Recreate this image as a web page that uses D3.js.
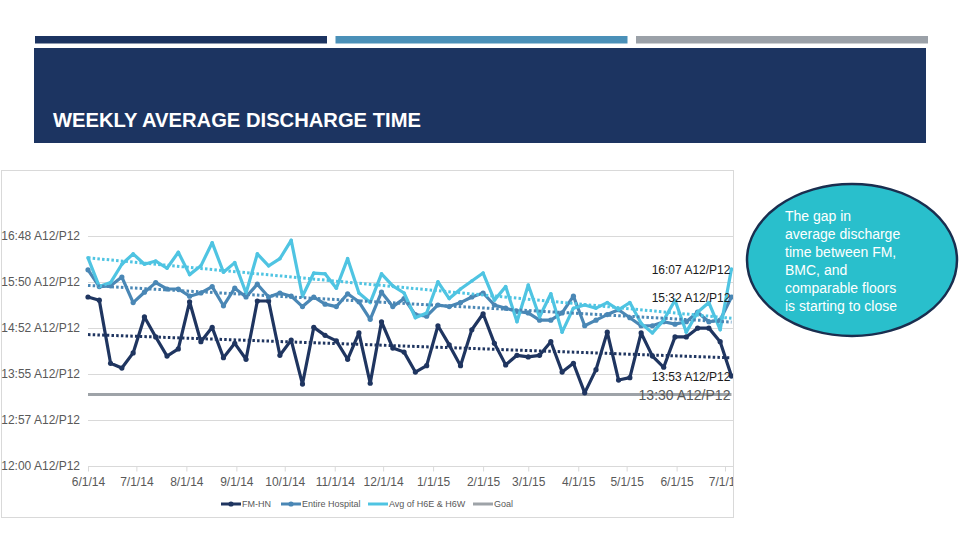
<!DOCTYPE html>
<html>
<head>
<meta charset="utf-8">
<script src="https://cdn.jsdelivr.net/npm/d3@7"></script>
<style>
  body { margin: 0; background: #fff; }
  svg { display: block; font-family: "Liberation Sans", Arial, sans-serif; }
</style>
</head>
<body>
<div id="slide"></div>
<script>
// weekly values (hh:mm)
let fmHN = ["15:32","15:28","14:09","14:03","14:22","15:07","14:42","14:18","14:27","15:26",
  "14:36","14:54","14:16","14:34","14:14","15:27","15:27","14:19","14:38","13:43",
  "14:54","14:44","14:37","14:14","14:47","13:44","15:01","14:28","14:23","13:58",
  "14:06","14:56","14:32","14:06","14:51","15:11","14:34","14:07","14:19","14:17",
  "14:19","14:36","13:58","14:09","13:32","14:01","14:48","13:48","13:51","14:47",
  "14:18","14:04","14:42","14:42","14:53","14:53","14:36","13:53"];
let entireHospital = ["16:06","15:45","15:46","15:57","15:25","15:38","15:50","15:42","15:42","15:33",
  "15:37","15:45","15:21","15:43","15:32","15:48","15:32","15:37","15:33","15:20",
  "15:32","15:23","15:20","15:36","15:26","15:04","15:38","15:20","15:30","15:10",
  "15:08","15:22","15:20","15:25","15:32","15:37","15:22","15:18","15:14","15:12",
  "15:03","15:03","15:12","15:33","14:56","15:03","15:10","15:16","15:06","14:56",
  "14:56","15:01","14:58","15:01","15:13","15:01","15:03","15:32"];
let avgH6 = ["16:21","15:45","15:50","16:13","16:26","16:13","16:17","16:08","16:28","16:00",
  "16:11","16:40","16:03","16:15","15:37","16:26","16:11","16:20","16:43","15:33",
  "16:02","16:01","15:43","16:20","15:37","15:25","16:01","15:46","15:37","15:06",
  "15:12","15:51","15:30","15:42","15:52","16:02","15:28","15:45","15:01","15:47",
  "15:07","15:36","14:48","15:18","15:22","15:18","15:25","15:16","15:25","14:59",
  "14:47","15:03","15:28","14:48","15:13","15:25","14:51","16:07"];
let goal = "13:30";

let seriesNames = ["FM-HN", "Entire Hospital", "Avg of H6E & H6W", "Goal"];
let seriesColors = ["#1f3560", "#4a87b5", "#4fc4e2", "#9ea3a8"];

let yTicks = ["12:00", "12:57", "13:55", "14:52", "15:50", "16:48"];
let yTickValues = [720, 777.6, 835.2, 892.8, 950.4, 1008];
let xTickLabels = ["6/1/14","7/1/14","8/1/14","9/1/14","10/1/14","11/1/14","12/1/14",
  "1/1/15","2/1/15","3/1/15","4/1/15","5/1/15","6/1/15","7/1/15"];

let calloutLines = ["The gap in", "average discharge", "time between FM,",
  "BMC, and", "comparable floors", "is starting to close"];

let width = 960;
let height = 540;

function toMin(s) {
  let p = s.split(":");
  return +p[0] * 60 + +p[1];
}

let parseDay = d3.timeParse("%m/%d/%y");
let firstWeek = parseDay("06/01/14");
let weeks = d3.timeDay.range(firstWeek, d3.timeDay.offset(firstWeek, 7 * fmHN.length), 7);

let svg = d3.select("#slide").append("svg")
  .attr("width", width)
  .attr("height", height);

// header bars
let barColors = ["#1c3461", "#4a90b8", "#9ba1a8"];
barColors.forEach(function(c, i) {
  svg.append("rect")
    .attr("x", 35 + i * 300.5)
    .attr("y", 36)
    .attr("width", 292)
    .attr("height", 7.5)
    .attr("fill", c);
});

svg.append("rect")
  .attr("x", 34)
  .attr("y", 48)
  .attr("width", 892)
  .attr("height", 95)
  .attr("fill", "#1c3461");

svg.append("text")
  .attr("x", 53)
  .attr("y", 127)
  .attr("fill", "#fff")
  .attr("font-size", 20.2)
  .attr("font-weight", "bold")
  .text("WEEKLY AVERAGE DISCHARGE TIME");

// chart box
let box = { x: 1, y: 170, w: 732, h: 347 };
svg.append("rect")
  .attr("x", box.x + 0.5)
  .attr("y", box.y + 0.5)
  .attr("width", box.w)
  .attr("height", box.h)
  .attr("fill", "#fff")
  .attr("stroke", "#d9d9d9");

svg.append("clipPath").attr("id", "boxClip")
  .append("rect")
  .attr("x", box.x)
  .attr("y", box.y)
  .attr("width", box.w)
  .attr("height", box.h);

let chart = svg.append("g").attr("clip-path", "url(#boxClip)");

let xScale = d3.scaleTime()
  .domain([parseDay("06/01/14"), parseDay("07/01/15")])
  .range([88, 725]);
let yScale = d3.scaleLinear()
  .domain([720, 1008])
  .range([466.3, 236.3]);

// gridlines
chart.append("g")
  .selectAll("line")
  .data(yTickValues.slice(1))
  .enter()
  .append("line")
  .attr("x1", 88)
  .attr("x2", box.x + box.w)
  .attr("y1", function(d) { return Math.round(yScale(d)) + 0.5; })
  .attr("y2", function(d) { return Math.round(yScale(d)) + 0.5; })
  .attr("stroke", "#d9d9d9")
  .attr("stroke-width", 1);

// y labels
chart.append("g")
  .selectAll("text")
  .data(yTickValues)
  .enter()
  .append("text")
  .attr("x", 80)
  .attr("y", function(d) { return yScale(d) + 4; })
  .attr("text-anchor", "end")
  .attr("font-size", 12)
  .attr("fill", "#595959")
  .text(function(d, i) { return yTicks[i] + " A12/P12"; });

// x axis
let xAxis = d3.axisBottom(xScale)
  .ticks(d3.timeMonth.every(1))
  .tickSize(5)
  .tickFormat(function(d, i) { return xTickLabels[i]; });

let xAxisG = chart.append("g")
  .attr("transform", "translate(0," + (Math.round(yScale(720)) + 0.5) + ")")
  .call(xAxis);
xAxisG.select(".domain")
  .attr("stroke", "#d9d9d9")
  .attr("d", "M88,0H" + (box.x + box.w));
xAxisG.selectAll(".tick line").attr("stroke", "#d9d9d9");
xAxisG.selectAll(".tick text")
  .attr("font-family", "Liberation Sans, Arial, sans-serif")
  .attr("font-size", 12)
  .attr("fill", "#595959")
  .attr("dy", "0.95em");

// goal
chart.append("line")
  .attr("x1", xScale(weeks[0]))
  .attr("x2", xScale(weeks[weeks.length - 1]))
  .attr("y1", yScale(toMin(goal)))
  .attr("y2", yScale(toMin(goal)))
  .attr("stroke", seriesColors[3])
  .attr("stroke-width", 3);

let allSeries = [fmHN, entireHospital, avgH6];

let line = d3.line()
  .x(function(d, i) { return xScale(weeks[i]); })
  .y(function(d) { return yScale(toMin(d)); });

allSeries.forEach(function(s, k) {
  chart.append("path")
    .datum(s)
    .attr("d", line)
    .attr("fill", "none")
    .attr("stroke", seriesColors[k])
    .attr("stroke-width", 3.2)
    .attr("stroke-linejoin", "round");

  chart.append("g")
    .selectAll("circle")
    .data(s)
    .enter()
    .append("circle")
    .attr("cx", function(d, i) { return xScale(weeks[i]); })
    .attr("cy", function(d) { return yScale(toMin(d)); })
    .attr("r", k < 2 ? 2.6 : 1.8)
    .attr("fill", seriesColors[k]);
});

// linear trendlines
allSeries.forEach(function(s, k) {
  let xs = weeks.map(function(d) { return +d; });
  let ys = s.map(toMin);
  let mx = d3.mean(xs);
  let my = d3.mean(ys);
  let num = d3.sum(xs, function(x, i) { return (x - mx) * (ys[i] - my); });
  let den = d3.sum(xs, function(x) { return (x - mx) * (x - mx); });
  let slope = num / den;
  let a = my - slope * mx;
  let x0 = xs[0];
  let x1 = xs[xs.length - 1];
  chart.append("line")
    .attr("x1", xScale(x0))
    .attr("x2", xScale(x1))
    .attr("y1", yScale(a + slope * x0))
    .attr("y2", yScale(a + slope * x1))
    .attr("stroke", seriesColors[k])
    .attr("stroke-width", 3)
    .attr("stroke-dasharray", "2.5,2.2");
});

// data labels at last point
let lastIdx = weeks.length - 1;
let lastX = xScale(weeks[lastIdx]);
allSeries.forEach(function(s, k) {
  chart.append("text")
    .attr("x", lastX - 1)
    .attr("y", yScale(toMin(s[lastIdx])) + 5)
    .attr("text-anchor", "end")
    .attr("font-size", 12)
    .attr("fill", "#1a1a1a")
    .text(s[lastIdx] + " A12/P12");
});
chart.append("text")
  .attr("x", lastX - 1)
  .attr("y", yScale(toMin(goal)) + 6)
  .attr("text-anchor", "end")
  .attr("font-size", 14)
  .attr("fill", "#595959")
  .text(goal + " A12/P12");

// legend
let legendX = [221, 281, 368, 473];
let legend = chart.append("g").attr("transform", "translate(0,504)");
seriesNames.forEach(function(name, k) {
  let g = legend.append("g").attr("transform", "translate(" + legendX[k] + ",0)");
  g.append("line")
    .attr("x1", 0).attr("x2", 20)
    .attr("stroke", seriesColors[k])
    .attr("stroke-width", 3);
  if (k < 2) {
    g.append("circle").attr("cx", 10).attr("r", 2.6).attr("fill", seriesColors[k]);
  }
  g.append("text")
    .attr("x", 21)
    .attr("y", 3.3)
    .attr("font-size", 9)
    .attr("fill", "#595959")
    .text(name);
});

// callout
svg.append("ellipse")
  .attr("cx", 852)
  .attr("cy", 260)
  .attr("rx", 105)
  .attr("ry", 76)
  .attr("fill", "#29bfcc")
  .attr("stroke", "#1a2e4f")
  .attr("stroke-width", 2.5);

svg.append("g")
  .selectAll("text")
  .data(calloutLines)
  .enter()
  .append("text")
  .attr("x", 785)
  .attr("y", function(d, i) { return 221 + i * 18; })
  .attr("font-size", 14)
  .attr("fill", "#fff")
  .text(function(d) { return d; });
</script>
</body>
</html>
